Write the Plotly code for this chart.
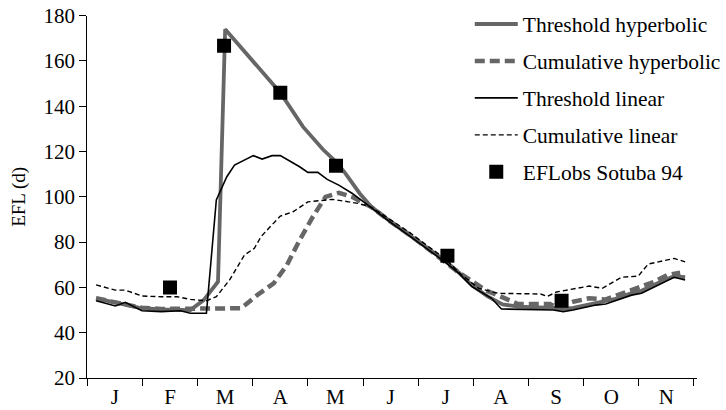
import plotly.graph_objects as go

months = ["J", "F", "M", "A", "M", "J", "J", "A", "S", "O", "N"]

# x positions in months since start of January
th_hyp_x = [0.16, 0.51, 0.99, 1.34, 1.69, 1.87, 2.11, 2.37, 2.50, 3.03, 3.50, 3.91, 4.27, 4.51,
            4.68, 4.94, 5.15, 5.50, 5.86, 6.16, 6.50, 6.74, 6.97, 7.26, 7.53, 7.81, 8.45, 8.63,
            8.81, 9.22, 9.58, 9.87, 10.05, 10.40, 10.64, 10.84]
th_hyp_y = [55.2, 53.2, 50.8, 50.3, 50.3, 50.0, 54.4, 62.5, 174, 159, 146, 131, 121, 115.5,
            110.4, 101.5, 95.6, 89, 83, 77.5, 71.5, 66.5, 61, 56, 52.5, 51.5, 51, 50.5,
            51, 53, 55, 57.5, 58.5, 62.5, 65, 64.5]

cum_hyp_x = [0.16, 0.51, 0.99, 1.34, 1.69, 1.96, 2.32, 2.79, 3.08, 3.38, 3.62, 3.85, 4.09, 4.32,
             4.56, 4.80, 5.15, 5.50, 5.86, 6.16, 6.50, 6.74, 7.22, 7.81, 8.39, 8.51, 8.81, 9.10,
             9.40, 9.87, 10.28, 10.52, 10.75]
cum_hyp_y = [55.2, 53.5, 51, 50.5, 50.5, 50.5, 50.8, 50.8, 56.6, 61.8, 69.9, 80.9, 91.2, 100,
             101.8, 100, 95.5, 89, 83, 77.5, 71.5, 66.5, 58.8, 52.7, 52.7, 51.2, 53.7, 55.2,
             54.7, 58.8, 62.5, 65.5, 66.5]

th_lin_x = [0.16, 0.51, 0.69, 0.99, 1.34, 1.69, 1.87, 2.16, 2.34, 2.53, 2.67, 3.01, 3.17, 3.35,
            3.50, 3.85, 4.00, 4.18, 4.35, 4.56, 4.80, 5.15, 5.50, 5.86, 6.16, 6.50, 6.74, 6.98,
            7.33, 7.51, 8.45, 8.63, 8.81, 9.22, 9.40, 9.58, 9.87, 10.05, 10.40, 10.64, 10.84]
th_lin_y = [54.1, 51.8, 53.4, 49.7, 49.3, 49.7, 48.6, 48.6, 98.6, 108.9, 114, 118.2, 116.7, 118.2,
            118.2, 113.3, 110.8, 110.8, 107.7, 105.2, 101.6, 95, 88.7, 82.4, 77, 71, 66.2, 60.3,
            55.2, 50.5, 50, 49.3, 50, 52.2, 52.7, 54.1, 56.6, 57.4, 61.8, 64.5, 63.3]

cum_lin_x = [0.16, 0.51, 0.69, 0.99, 1.34, 1.63, 1.87, 2.16, 2.34, 2.58, 2.76, 2.85, 3.03, 3.15,
             3.29, 3.50, 3.73, 4.00, 4.21, 4.44, 4.74, 4.91, 5.15, 5.50, 5.86, 6.16, 6.50, 6.74,
             7.10, 7.45, 8.22, 8.34, 8.51, 9.10, 9.34, 9.69, 9.99, 10.17, 10.64, 10.84]
cum_lin_y = [61.1, 58.8, 58.8, 56.2, 55.9, 55.9, 54.7, 54.1, 55.9, 63.3, 70.6, 74.3, 77.3, 82.4,
             86.1, 91.5, 93.4, 97.8, 98.3, 98.9, 97.8, 97.1, 95.5, 90, 84, 78.5, 72.5, 66.5,
             59.6, 57.4, 57.1, 56, 58, 60.6, 59.6, 64.5, 65, 70.3, 72.8, 71.3]

obs_x = [1.50, 2.48, 3.50, 4.51, 6.53, 8.60]
obs_y = [60, 166.7, 146, 113.7, 74, 54.1]

GRAY = "#666666"
FONT = "Liberation Serif"
W, H = 726, 410

fig = go.Figure()
fig.add_trace(go.Scatter(x=th_hyp_x, y=th_hyp_y, mode="lines", name="Threshold hyperbolic",
                         legendgroup="a", line=dict(color=GRAY, width=3.8)))
fig.add_trace(go.Scatter(x=cum_hyp_x, y=cum_hyp_y, mode="lines", name="Cumulative hyperbolic",
                         legendgroup="b", line=dict(color=GRAY, width=4.5, dash="10px,5px")))
fig.add_trace(go.Scatter(x=th_lin_x, y=th_lin_y, mode="lines", name="Threshold linear",
                         legendgroup="c", line=dict(color="black", width=1.6)))
fig.add_trace(go.Scatter(x=cum_lin_x, y=cum_lin_y, mode="lines", name="Cumulative linear",
                         legendgroup="d", line=dict(color="black", width=1.4, dash="5px,3px")))
fig.add_trace(go.Scatter(x=obs_x, y=obs_y, mode="markers", name="EFLobs Sotuba 94",
                         legendgroup="e", marker=dict(symbol="square", size=14, color="black")))

fig.update_layout(
    width=W, height=H,
    margin=dict(l=0, r=0, t=0, b=0),
    paper_bgcolor="white", plot_bgcolor="white",
    font=dict(family=FONT, color="black", size=20),
    showlegend=True,
    legend=dict(x=479 / W, y=1 - 3.5 / H, xanchor="left", yanchor="top",
                font=dict(family=FONT, size=21.5, color="black"),
                bgcolor="rgba(0,0,0,0)", borderwidth=0,
                tracegroupgap=6, itemwidth=43, traceorder="grouped"),
)
fig.update_xaxes(
    domain=[89 / W, 710.4 / W], automargin=False,
    range=[0, 11.05], showgrid=False, zeroline=False,
    showline=True, linecolor="black", linewidth=1.2,
    tickvals=[i + 0.5 for i in range(len(months))], ticktext=months,
    ticks="",
    tickfont=dict(family=FONT, size=21, color="black"),
    minor=dict(tickvals=list(range(len(months) + 1)), ticks="outside", ticklen=7,
               tickcolor="black", tickwidth=1, showgrid=False),
)
fig.update_yaxes(
    domain=[32 / H, 394.3 / H], automargin=False,
    range=[20, 180], showgrid=False, zeroline=False,
    showline=True, linecolor="black", linewidth=1.2,
    tickvals=list(range(20, 181, 20)),
    ticks="outside", ticklen=7, tickcolor="black", tickwidth=1,
    tickfont=dict(family=FONT, size=21, color="black"),
    title=dict(text="EFL (d)", font=dict(family=FONT, size=19, color="black"), standoff=12),
)

fig.write_html("out.html")
